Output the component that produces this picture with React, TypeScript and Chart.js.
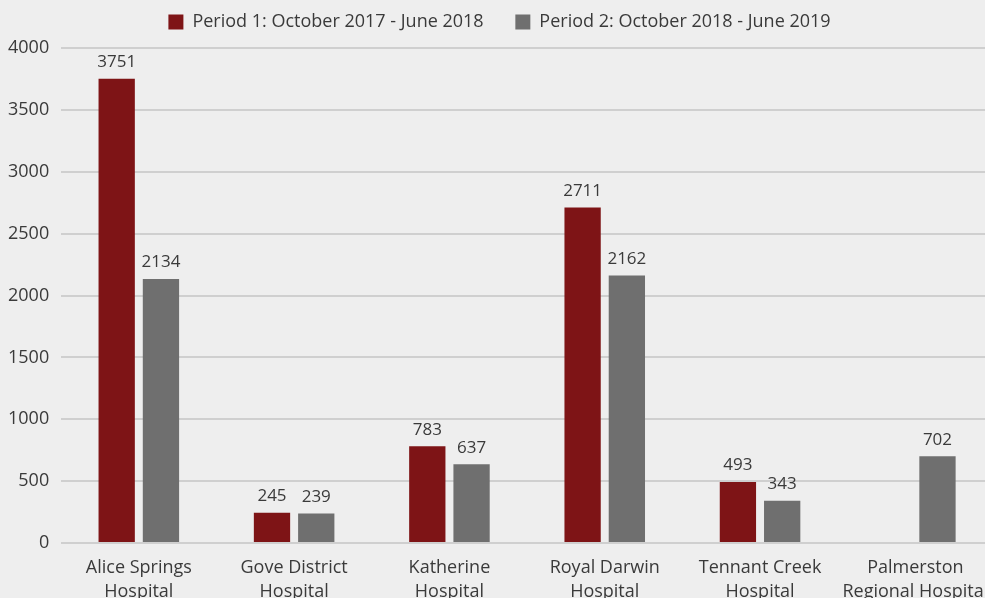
import React, { useEffect, useRef } from "react";
import { Chart, registerables } from "chart.js";

Chart.register(...registerables);

const categories: string[][] = [
  ["Alice Springs", "Hospital"],
  ["Gove District", "Hospital"],
  ["Katherine", "Hospital"],
  ["Royal Darwin", "Hospital"],
  ["Tennant Creek", "Hospital"],
  ["Palmerston", "Regional Hospital"],
];
const period1Label = "Period 1: October 2017 - June 2018";
const period2Label = "Period 2: October 2018 - June 2019";
const period1Values: (number | null)[] = [3751, 245, 783, 2711, 493, null];
const period2Values: (number | null)[] = [2134, 239, 637, 2162, 343, 702];
const yTicks = [0, 500, 1000, 1500, 2000, 2500, 3000, 3500, 4000];

const FONT = "'Open Sans', sans-serif";
const TEXT = "#3a3a3a";

const valueLabels = {
  id: "valueLabels",
  afterDatasetsDraw(chart: any) {
    const ctx = chart.ctx;
    ctx.save();
    ctx.font = `17px ${FONT}`;
    ctx.fillStyle = TEXT;
    ctx.textAlign = "center";
    ctx.textBaseline = "bottom";
    chart.data.datasets.forEach((ds: any, di: number) => {
      const meta = chart.getDatasetMeta(di);
      meta.data.forEach((bar: any, i: number) => {
        const v = ds.data[i];
        if (v === null || v === undefined) return;
        ctx.fillText(String(v), bar.x, bar.y - 8);
      });
    });
    ctx.restore();
  },
};

const legendSpacer = {
  id: "legendSpacer",
  beforeInit(chart: any) {
    const legend = chart.legend;
    if (!legend) return;
    const orig = legend.fit;
    legend.fit = function () {
      orig.call(this);
      this.height += 7;
    };
  },
  afterLayout(chart: any) {
    const legend = chart.legend;
    if (!legend) return;
    legend.left += 5;
    legend.right += 5;
  },
};

export default function App() {
  const ref = useRef<HTMLCanvasElement>(null);
  useEffect(() => {
    if (!ref.current) return;
    const chart = new Chart(ref.current, {
      type: "bar",
      data: {
        labels: categories,
        datasets: [
          {
            label: period1Label,
            data: period1Values,
            backgroundColor: "#7e1416",
            barPercentage: 0.82,
            categoryPercentage: 0.57,
          },
          {
            label: period2Label,
            data: period2Values,
            backgroundColor: "#6f6f6f",
            barPercentage: 0.82,
            categoryPercentage: 0.57,
          },
        ],
      },
      options: {
        animation: false,
        responsive: false,
        devicePixelRatio: 1,
        layout: { padding: { left: 0, right: 8, top: 0, bottom: 0 } },
        plugins: {
          legend: {
            position: "top",
            labels: {
              boxWidth: 15,
              boxHeight: 15,
              padding: 13,
              color: TEXT,
              font: { family: FONT, size: 18 },
              generateLabels: (c: any) => {
                const items = Chart.defaults.plugins.legend.labels.generateLabels(c);
                items.forEach((it: any, i: number) => {
                  if (i < items.length - 1) it.text = it.text + "    ";
                });
                return items;
              },
            },
          },
          tooltip: { enabled: false },
        },
        scales: {
          x: {
            grid: { display: false },
            border: { display: false },
            ticks: {
              color: TEXT,
              font: { family: FONT, size: 18, lineHeight: 1.33 },
              padding: 5,
              maxRotation: 0,
              autoSkip: false,
            },
          },
          y: {
            min: 0,
            max: 4000,
            afterBuildTicks: (axis: any) => {
              axis.ticks = yTicks.map((v) => ({ value: v }));
            },
            grid: { color: "#cfcfcf", lineWidth: 2, drawTicks: false },
            border: { display: false },
            ticks: {
              color: TEXT,
              font: { family: FONT, size: 18 },
              padding: 12,
              callback: (v: any) => String(v),
            },
          },
        },
      },
      plugins: [legendSpacer, valueLabels],
    });
    return () => chart.destroy();
  }, []);

  return (
    <div
      style={{
        position: "fixed",
        left: 0,
        top: 0,
        width: 985,
        height: 598,
        overflow: "hidden",
        background: "#eeeeee",
      }}
    >
      <canvas
        ref={ref}
        width={1005}
        height={609}
        style={{ width: 1005, height: 609, display: "block", marginLeft: -4 }}
      />
    </div>
  );
}
